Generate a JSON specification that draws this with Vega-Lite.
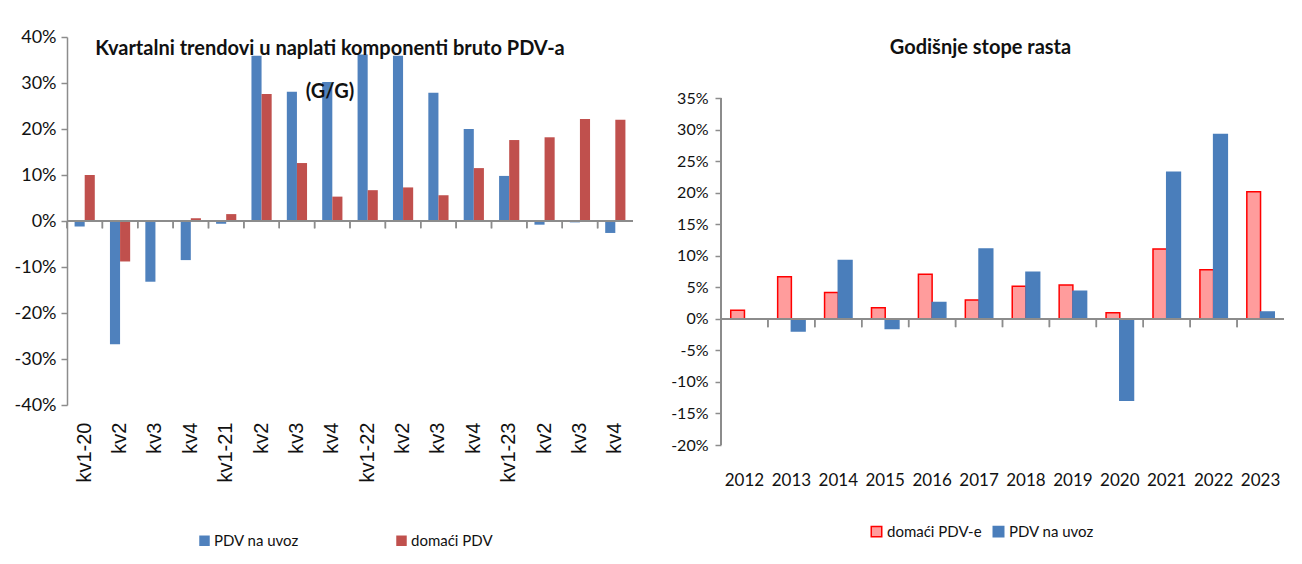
{
  "$schema": "https://vega.github.io/schema/vega-lite/v6.json",
  "padding": {"left": 14, "top": 28, "right": 5, "bottom": 5},
  "background": "white",
  "spacing": 88,
  "bounds": "flush",
  "resolve": {
    "scale": {"color": "independent", "stroke": "independent", "xOffset": "independent", "x": "independent", "y": "independent"},
    "legend": {"color": "independent", "stroke": "independent"}
  },
  "config": {
    "view": {"stroke": null},
    "font": "Lato",
    "axis": {"gridColor": "#8c8c8c", "gridWidth": 1.5, "domainColor": "#8c8c8c", "domainWidth": 1.5, "tickColor": "#8c8c8c", "tickWidth": 1.5, "labelColor": "#111111", "labelFont": "Lato", "title": null, "labelOverlap": false}
  },
  "hconcat": [
    {
      "width": 566,
      "height": 368,
      "title": {"text": ["Kvartalni trendovi u naplati komponenti  bruto PDV-a", "(G/G)"], "font": "Lato", "fontSize": 20, "fontWeight": "bold", "lineHeight": 43, "anchor": "middle", "frame": "group", "dx": -20, "offset": -40, "dy": 34, "color": "#111111"},
      "data": {"values": [
        {"q": "kv1-20", "s": "PDV na uvoz", "v": -1.2}, {"q": "kv1-20", "s": "domaći PDV", "v": 10.0},
        {"q": "kv2-20", "s": "PDV na uvoz", "v": -26.8}, {"q": "kv2-20", "s": "domaći PDV", "v": -8.8},
        {"q": "kv3-20", "s": "PDV na uvoz", "v": -13.2}, {"q": "kv3-20", "s": "domaći PDV", "v": 0},
        {"q": "kv4-20", "s": "PDV na uvoz", "v": -8.5}, {"q": "kv4-20", "s": "domaći PDV", "v": 0.6},
        {"q": "kv1-21", "s": "PDV na uvoz", "v": -0.6}, {"q": "kv1-21", "s": "domaći PDV", "v": 1.5},
        {"q": "kv2-21", "s": "PDV na uvoz", "v": 35.9}, {"q": "kv2-21", "s": "domaći PDV", "v": 27.6},
        {"q": "kv3-21", "s": "PDV na uvoz", "v": 28.1}, {"q": "kv3-21", "s": "domaći PDV", "v": 12.6},
        {"q": "kv4-21", "s": "PDV na uvoz", "v": 30.2}, {"q": "kv4-21", "s": "domaći PDV", "v": 5.3},
        {"q": "kv1-22", "s": "PDV na uvoz", "v": 36.2}, {"q": "kv1-22", "s": "domaći PDV", "v": 6.7},
        {"q": "kv2-22", "s": "PDV na uvoz", "v": 35.9}, {"q": "kv2-22", "s": "domaći PDV", "v": 7.3},
        {"q": "kv3-22", "s": "PDV na uvoz", "v": 27.9}, {"q": "kv3-22", "s": "domaći PDV", "v": 5.6},
        {"q": "kv4-22", "s": "PDV na uvoz", "v": 20.0}, {"q": "kv4-22", "s": "domaći PDV", "v": 11.5},
        {"q": "kv1-23", "s": "PDV na uvoz", "v": 9.8}, {"q": "kv1-23", "s": "domaći PDV", "v": 17.6},
        {"q": "kv2-23", "s": "PDV na uvoz", "v": -0.8}, {"q": "kv2-23", "s": "domaći PDV", "v": 18.2},
        {"q": "kv3-23", "s": "PDV na uvoz", "v": -0.3}, {"q": "kv3-23", "s": "domaći PDV", "v": 22.2},
        {"q": "kv4-23", "s": "PDV na uvoz", "v": -2.6}, {"q": "kv4-23", "s": "domaći PDV", "v": 22.0}
      ]},
      "layer": [
        {
          "mark": {"type": "rule", "color": "#8c8c8c", "strokeWidth": 1.5},
          "encoding": {
            "x": {"field": "q", "type": "nominal", "bandPosition": 0, "sort": null,
              "axis": {"labelAngle": -90, "labelFont": "Liberation Sans", "labelFontSize": 20, "labelPadding": 17, "ticks": false, "domain": false,
                "labelExpr": "indexof(datum.value, 'kv1') == 0 ? datum.value : slice(datum.value, 0, 3)"}},
            "y": {"datum": 0, "type": "quantitative",
              "axis": {"values": [-40, -30, -20, -10, 0, 10, 20, 30, 40], "labelExpr": "datum.value + '%'", "labelFontSize": 18, "tickSize": 6, "labelPadding": 5}},
            "y2": {"datum": -1.6}
          }
        },
        {
          "mark": {"type": "bar"},
          "encoding": {
            "x": {"field": "q", "type": "nominal", "sort": null,
              "scale": {"paddingInner": 0, "paddingOuter": 0},
              "axis": {"labelAngle": -90, "labelFont": "Liberation Sans", "labelFontSize": 20, "labelPadding": 17, "ticks": false, "domain": false,
                "labelExpr": "indexof(datum.value, 'kv1') == 0 ? datum.value : slice(datum.value, 0, 3)"}},
            "xOffset": {"field": "s", "type": "nominal", "sort": ["PDV na uvoz", "domaći PDV"], "scale": {"paddingInner": 0, "paddingOuter": 0.75}},
            "y": {"field": "v", "type": "quantitative",
              "scale": {"domain": [-40, 40], "nice": false, "zero": false},
              "axis": {"values": [-40, -30, -20, -10, 0, 10, 20, 30, 40], "labelExpr": "datum.value + '%'", "labelFontSize": 18, "tickSize": 6, "labelPadding": 5}},
            "color": {"field": "s", "type": "nominal", "sort": ["PDV na uvoz", "domaći PDV"],
              "scale": {"domain": ["PDV na uvoz", "domaći PDV"], "range": ["#4f81bd", "#c0504d"]},
              "legend": {"orient": "none", "legendX": 130, "legendY": 496, "direction": "horizontal", "title": null, "symbolType": "square", "symbolSize": 110, "symbolStrokeWidth": 0, "labelFontSize": 15, "labelFont": "Lato", "labelColor": "#111111", "columnPadding": 95, "labelOffset": 2}}
          }
        },
        {
          "mark": {"type": "rule", "color": "#8c8c8c", "strokeWidth": 1.5},
          "encoding": {"y": {"datum": 0, "type": "quantitative",
              "axis": {"values": [-40, -30, -20, -10, 0, 10, 20, 30, 40], "labelExpr": "datum.value + '%'", "labelFontSize": 18, "tickSize": 6, "labelPadding": 5}}}
        }
      ]
    },
    {
      "width": 563,
      "height": 408,
      "title": {"text": "Godišnje stope rasta", "font": "Lato", "fontSize": 20, "fontWeight": "bold", "anchor": "middle", "frame": "group", "dx": -22, "offset": -40, "dy": -19, "color": "#111111"},
      "data": {"values": [
        {"y": "2012", "s": "domaći PDV-e", "v": 1.4}, {"y": "2012", "s": "PDV na uvoz", "v": 0},
        {"y": "2013", "s": "domaći PDV-e", "v": 6.7}, {"y": "2013", "s": "PDV na uvoz", "v": -1.9},
        {"y": "2014", "s": "domaći PDV-e", "v": 4.2}, {"y": "2014", "s": "PDV na uvoz", "v": 9.3},
        {"y": "2015", "s": "domaći PDV-e", "v": 1.8}, {"y": "2015", "s": "PDV na uvoz", "v": -1.5},
        {"y": "2016", "s": "domaći PDV-e", "v": 7.1}, {"y": "2016", "s": "PDV na uvoz", "v": 2.6},
        {"y": "2017", "s": "domaći PDV-e", "v": 3.0}, {"y": "2017", "s": "PDV na uvoz", "v": 11.1},
        {"y": "2018", "s": "domaći PDV-e", "v": 5.2}, {"y": "2018", "s": "PDV na uvoz", "v": 7.4},
        {"y": "2019", "s": "domaći PDV-e", "v": 5.4}, {"y": "2019", "s": "PDV na uvoz", "v": 4.4},
        {"y": "2020", "s": "domaći PDV-e", "v": 1.0}, {"y": "2020", "s": "PDV na uvoz", "v": -12.9},
        {"y": "2021", "s": "domaći PDV-e", "v": 11.1}, {"y": "2021", "s": "PDV na uvoz", "v": 23.3},
        {"y": "2022", "s": "domaći PDV-e", "v": 7.8}, {"y": "2022", "s": "PDV na uvoz", "v": 29.3},
        {"y": "2023", "s": "domaći PDV-e", "v": 20.2}, {"y": "2023", "s": "PDV na uvoz", "v": 1.1}
      ]},
      "layer": [
        {
          "mark": {"type": "rule", "color": "#8c8c8c", "strokeWidth": 1.5},
          "encoding": {
            "x": {"field": "y", "type": "nominal", "bandPosition": 0, "sort": null,
              "axis": {"labelAngle": 0, "labelFontSize": 17, "labelPadding": 27, "ticks": false, "domain": false}},
            "y": {"datum": 0, "type": "quantitative",
              "axis": {"values": [-20, -15, -10, -5, 0, 5, 10, 15, 20, 25, 30, 35], "labelExpr": "datum.value + '%'", "labelFontSize": 16, "tickSize": 6, "labelPadding": 7, "domain": false}},
            "y2": {"datum": -1.3}
          }
        },
        {
          "mark": {"type": "rule", "color": "#8c8c8c", "strokeWidth": 1.5},
          "encoding": {
            "x": {"datum": "2012", "type": "nominal", "bandPosition": 0,
              "axis": {"labelAngle": 0, "labelFontSize": 17, "labelPadding": 27, "ticks": false, "domain": false}},
            "y": {"datum": 35, "type": "quantitative",
              "axis": {"values": [-20, -15, -10, -5, 0, 5, 10, 15, 20, 25, 30, 35], "labelExpr": "datum.value + '%'", "labelFontSize": 16, "tickSize": 6, "labelPadding": 7, "domain": false}},
            "y2": {"datum": -20}
          }
        },
        {
          "mark": {"type": "bar", "strokeWidth": 1.5},
          "encoding": {
            "x": {"field": "y", "type": "nominal", "sort": null,
              "scale": {"paddingInner": 0, "paddingOuter": 0},
              "axis": {"labelAngle": 0, "labelFontSize": 17, "labelPadding": 27, "ticks": false, "domain": false}},
            "xOffset": {"field": "s", "type": "nominal", "sort": ["domaći PDV-e", "PDV na uvoz"], "scale": {"paddingInner": 0, "paddingOuter": 0.71}},
            "y": {"field": "v", "type": "quantitative",
              "scale": {"domain": [-20, 44.76], "nice": false, "zero": false},
              "axis": {"values": [-20, -15, -10, -5, 0, 5, 10, 15, 20, 25, 30, 35], "labelExpr": "datum.value + '%'", "labelFontSize": 16, "tickSize": 6, "labelPadding": 7, "domain": false}},
            "color": {"field": "s", "type": "nominal", "sort": ["domaći PDV-e", "PDV na uvoz"],
              "scale": {"domain": ["domaći PDV-e", "PDV na uvoz"], "range": ["#ff9c9c", "#4a7ebb"]},
              "legend": {"orient": "none", "legendX": 148, "legendY": 487, "direction": "horizontal", "title": null, "symbolType": "square", "symbolSize": 110, "labelFontSize": 15, "labelFont": "Lato", "labelColor": "#111111", "columnPadding": 8, "labelOffset": 3}},
            "stroke": {"field": "s", "type": "nominal", "sort": ["domaći PDV-e", "PDV na uvoz"],
              "scale": {"domain": ["domaći PDV-e", "PDV na uvoz"], "range": ["#ff0000", "#4a7ebb"]},
              "legend": {"orient": "none", "legendX": 148, "legendY": 487, "direction": "horizontal", "title": null, "symbolType": "square", "symbolSize": 110, "labelFontSize": 15, "labelFont": "Lato", "labelColor": "#111111", "columnPadding": 8, "labelOffset": 3}}
          }
        },
        {
          "mark": {"type": "rule", "color": "#8c8c8c", "strokeWidth": 1.5},
          "encoding": {"y": {"datum": 0, "type": "quantitative",
              "axis": {"values": [-20, -15, -10, -5, 0, 5, 10, 15, 20, 25, 30, 35], "labelExpr": "datum.value + '%'", "labelFontSize": 16, "tickSize": 6, "labelPadding": 7, "domain": false}}}
        }
      ]
    }
  ]
}
